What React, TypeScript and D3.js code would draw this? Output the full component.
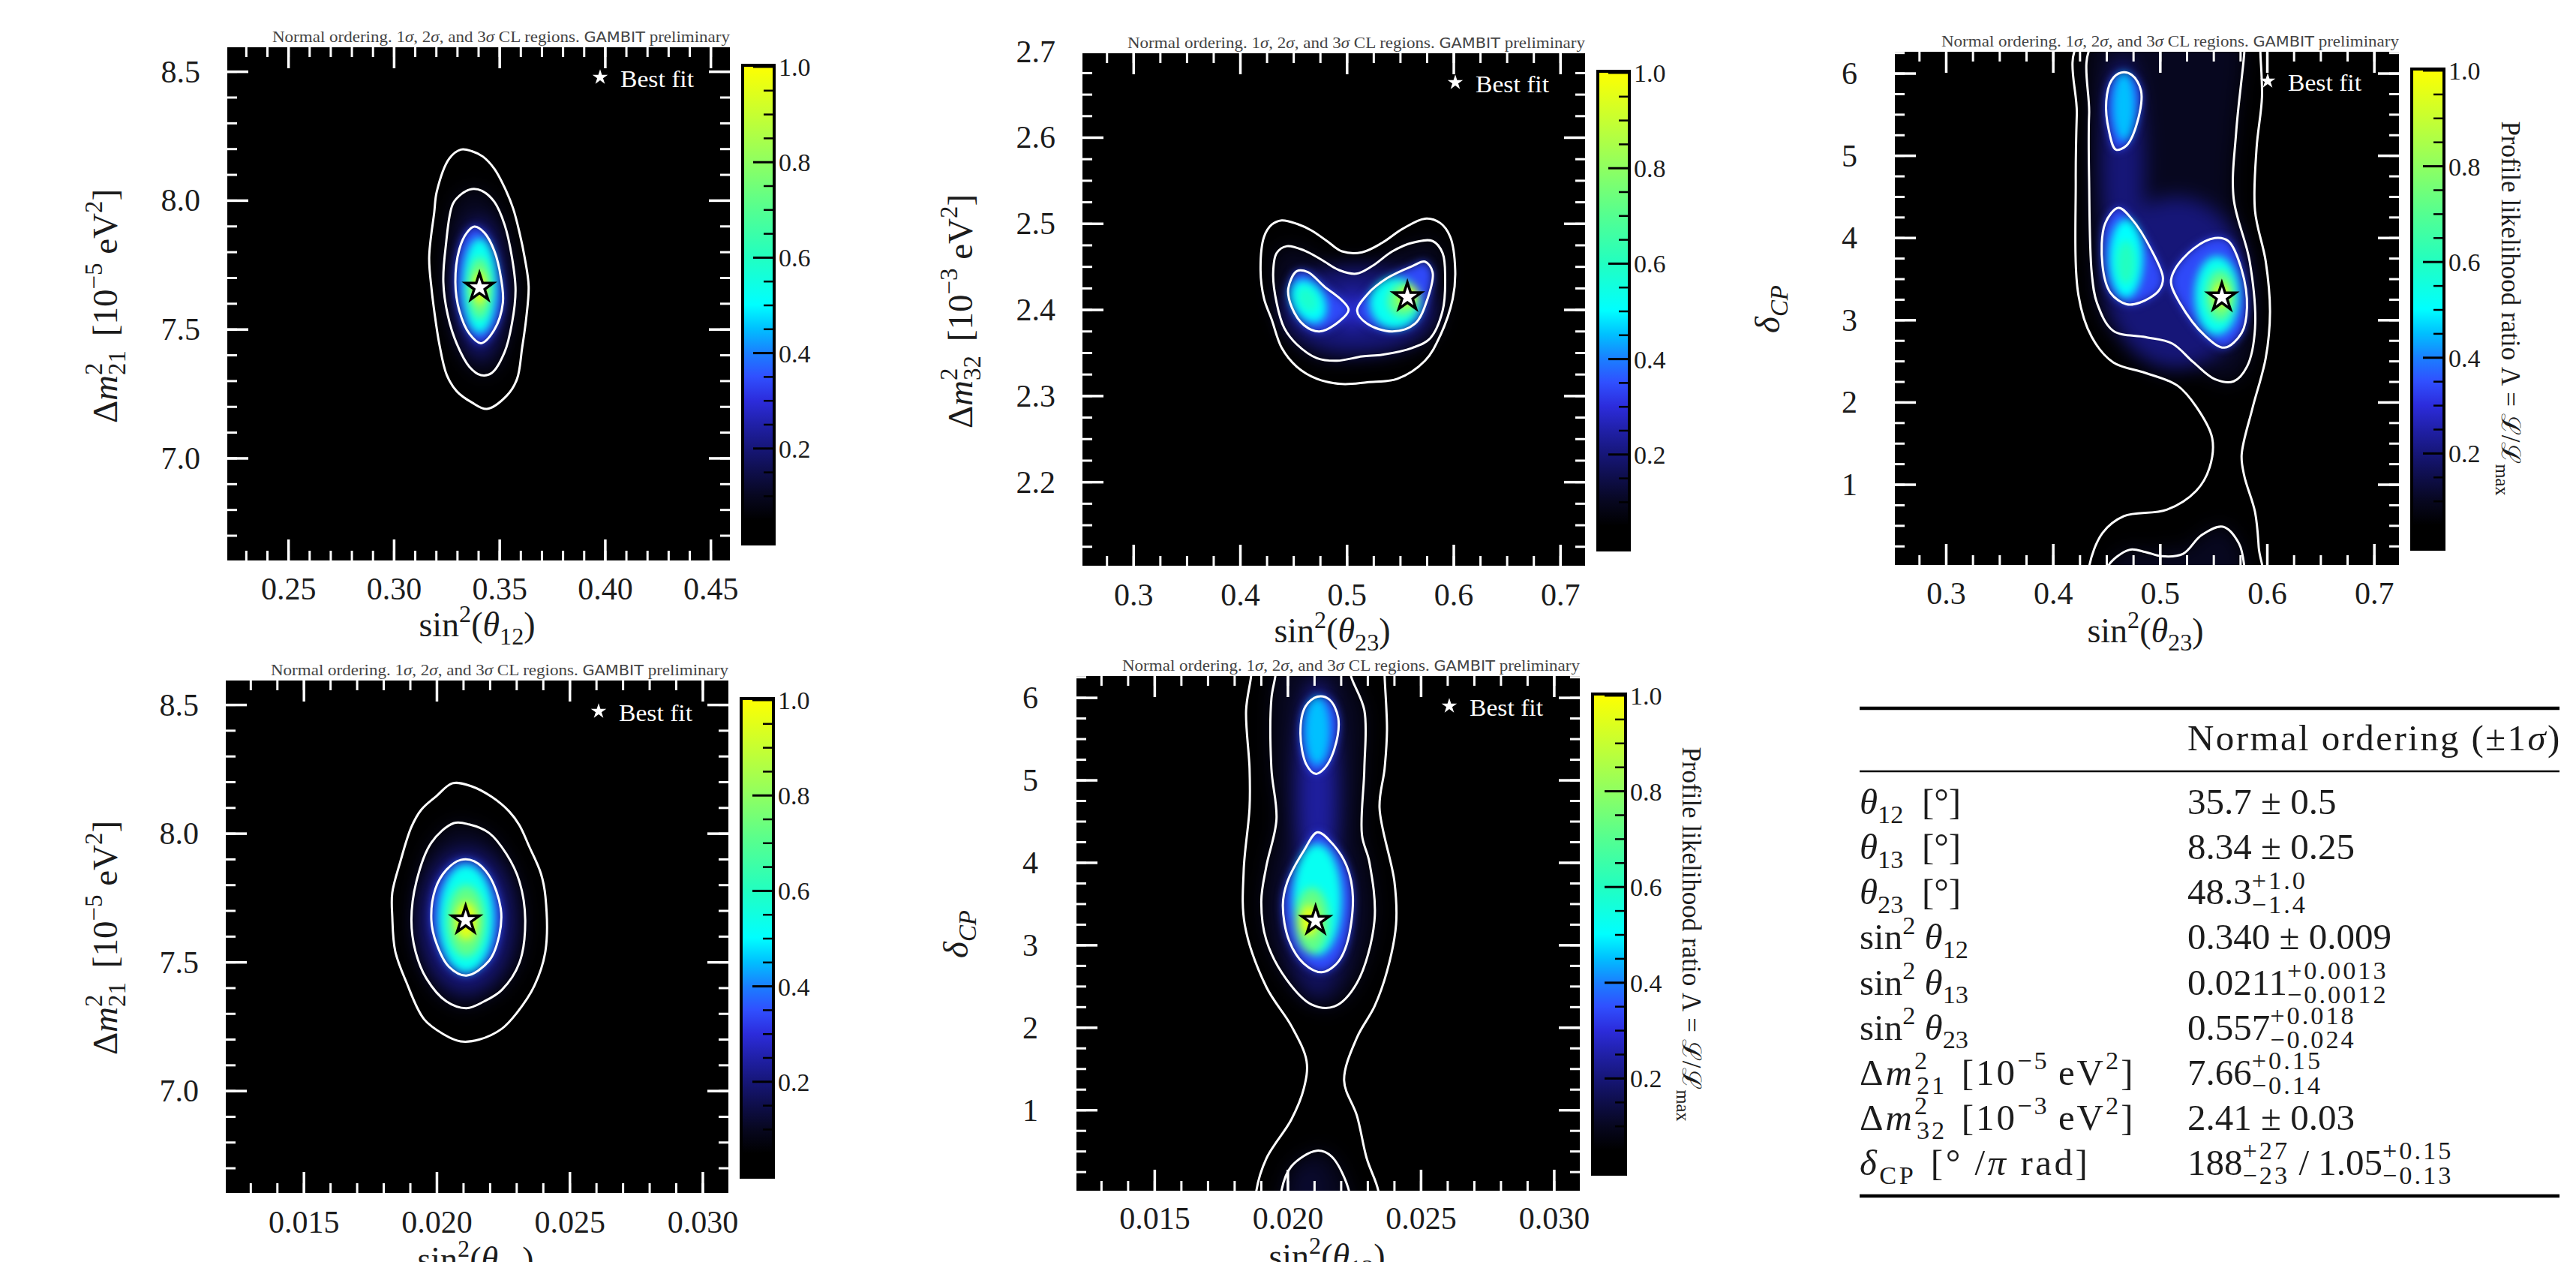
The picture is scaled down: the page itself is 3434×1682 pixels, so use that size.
import React from "react";
import * as d3 from "d3";

// Colour map
const cmapLevels = [0, 0.05, 0.1, 0.15, 0.2, 0.25, 0.3, 0.35, 0.4, 0.45, 0.5, 0.6, 0.7, 0.8, 0.9, 1];
const cmapColors = ["#000000", "#000000", "#07071f", "#0e0e4a", "#161678", "#2020a8", "#2c2cdc", "#3050ff", "#1a80ff", "#00c0ff", "#00ffff", "#22ffc0", "#55ff90", "#90ff60", "#c8ff30", "#ffff00"];
const cbarMajor = [0.2, 0.4, 0.6, 0.8, 1.0];
const cbarMinor = [0.05, 0.1, 0.15, 0.25, 0.3, 0.35, 0.45, 0.5, 0.55, 0.65, 0.7, 0.75, 0.85, 0.9, 0.95];

// Panel 1: sin2(theta12) vs dm21
const p1Xticks = [0.25, 0.3, 0.35, 0.4, 0.45];
const p1Yticks = [7.0, 7.5, 8.0, 8.5];
const p1Best = [0.3404, 7.663];
const p1Sigma3 = [[0.3316, 8.198], [0.3368, 8.192], [0.342, 8.171], [0.3475, 8.123], [0.3523, 8.051], [0.3563, 7.971], [0.3594, 7.875], [0.3618, 7.78], [0.3637, 7.668], [0.3625, 7.54], [0.3606, 7.428], [0.3582, 7.308], [0.3534, 7.244], [0.3439, 7.192], [0.3368, 7.217], [0.3297, 7.26], [0.3249, 7.324], [0.3214, 7.444], [0.319, 7.572], [0.3178, 7.652], [0.3166, 7.78], [0.319, 7.955], [0.3202, 8.035], [0.3261, 8.163]];
const p1Sigma2 = [[0.3368, 8.045], [0.3416, 8.038], [0.3475, 7.995], [0.3523, 7.907], [0.3558, 7.78], [0.3575, 7.652], [0.3558, 7.524], [0.3523, 7.412], [0.3463, 7.332], [0.3411, 7.323], [0.3356, 7.356], [0.3297, 7.444], [0.3254, 7.556], [0.3233, 7.684], [0.3245, 7.827], [0.3278, 7.987], [0.3321, 8.027]];
const p1Sigma1 = [[0.338, 7.899], [0.3428, 7.875], [0.3475, 7.804], [0.3506, 7.7], [0.3515, 7.604], [0.3475, 7.5], [0.3411, 7.447], [0.3356, 7.484], [0.3309, 7.572], [0.329, 7.684], [0.3309, 7.812], [0.3344, 7.875]];
// [level, centre x, centre y, half width, half height, tilt]
const p1Bands = [[0.2, 0.3405, 7.66, 0.0115, 0.27, 0], [0.52, 0.3405, 7.67, 0.0082, 0.185, 0], [0.72, 0.3405, 7.66, 0.0056, 0.12, 0], [0.95, 0.3405, 7.66, 0.0032, 0.065, 0]];

// Panel 2: sin2(theta23) vs dm32
const p2Xticks = [0.3, 0.4, 0.5, 0.6, 0.7];
const p2Yticks = [2.2, 2.3, 2.4, 2.5, 2.6, 2.7];
const p2Best = [0.5565, 2.415];
const p2Sigma3 = [[0.4387, 2.504], [0.4529, 2.5], [0.467, 2.492], [0.4811, 2.48], [0.4953, 2.468], [0.5141, 2.467], [0.533, 2.478], [0.5518, 2.494], [0.573, 2.506], [0.5872, 2.501], [0.5966, 2.485], [0.6013, 2.446], [0.599, 2.413], [0.5872, 2.37], [0.573, 2.341], [0.5471, 2.32], [0.5189, 2.316], [0.4953, 2.314], [0.4717, 2.32], [0.4529, 2.334], [0.4387, 2.356], [0.4293, 2.389], [0.4222, 2.413], [0.4189, 2.446], [0.4222, 2.485], [0.4293, 2.499]];
const p2Sigma2 = [[0.4435, 2.474], [0.4599, 2.469], [0.4764, 2.458], [0.4929, 2.446], [0.5085, 2.442], [0.5236, 2.451], [0.5424, 2.468], [0.5613, 2.478], [0.5801, 2.48], [0.5895, 2.466], [0.5919, 2.437], [0.5895, 2.399], [0.5778, 2.367], [0.5613, 2.356], [0.533, 2.348], [0.5141, 2.346], [0.4906, 2.341], [0.4717, 2.344], [0.4529, 2.36], [0.4411, 2.379], [0.434, 2.408], [0.4307, 2.442], [0.434, 2.466]];
const p2Sigma1a = [[0.4529, 2.445], [0.4632, 2.444], [0.4788, 2.427], [0.4953, 2.411], [0.5014, 2.4], [0.4929, 2.387], [0.4741, 2.375], [0.4599, 2.382], [0.4482, 2.403], [0.4449, 2.425]];
const p2Sigma1b = [[0.5613, 2.451], [0.573, 2.456], [0.5801, 2.444], [0.5754, 2.413], [0.5636, 2.384], [0.5424, 2.375], [0.5189, 2.384], [0.5094, 2.399], [0.5189, 2.418], [0.5377, 2.437]];
const p2Bands = [[0.2, 0.51, 2.4, 0.072, 0.052, 0], [0.3, 0.505, 2.4, 0.012, 0.02, 0], [0.5, 0.464, 2.41, 0.015, 0.027, -30], [0.58, 0.463, 2.412, 0.009, 0.016, -30], [0.52, 0.545, 2.408, 0.024, 0.03, 30], [0.72, 0.553, 2.412, 0.0145, 0.02, 30], [0.95, 0.557, 2.416, 0.0075, 0.012, 30]];

// Panel 3: sin2(theta23) vs deltaCP
const p3Xticks = [0.3, 0.4, 0.5, 0.6, 0.7];
const p3Yticks = [1, 2, 3, 4, 5, 6];
const p3Best = [0.5575, 3.28];
const p3Sigma3 = [[0.425, 6.381], [0.422, 5.51], [0.421, 4.691], [0.4235, 3.307], [0.436, 2.795], [0.456, 2.488], [0.486, 2.36], [0.516, 2.206], [0.5335, 1.95], [0.5485, 1.566], [0.546, 1.207], [0.5335, 0.925], [0.506, 0.695], [0.466, 0.618], [0.446, 0.413], [0.4335, 0.003], [0.4335, -0.279], [0.5935, -0.279], [0.592, 0.234], [0.5885, 0.669], [0.5785, 1.105], [0.576, 1.361], [0.586, 1.924], [0.5985, 2.539], [0.6025, 3.102], [0.5985, 3.717], [0.5885, 4.332], [0.59, 5.1], [0.595, 5.715], [0.5935, 6.263], [0.5935, 6.381]];
const p3Sigma2a = [[0.4385, 6.381], [0.4335, 5.51], [0.4335, 4.691], [0.436, 3.564], [0.441, 3.205], [0.456, 2.872], [0.486, 2.795], [0.511, 2.718], [0.531, 2.488], [0.551, 2.283], [0.5685, 2.257], [0.581, 2.436], [0.5885, 2.898], [0.5835, 3.717], [0.5685, 4.486], [0.571, 5.305], [0.5785, 6.263], [0.5785, 6.381]];
const p3Sigma2b = [[0.451, -0.2], [0.451, 0.003], [0.471, 0.208], [0.486, 0.182], [0.501, 0.131], [0.521, 0.157], [0.5385, 0.387], [0.5585, 0.49], [0.5735, 0.285], [0.5785, 0.003], [0.5785, -0.2]];
const p3Sigma1a = [[0.4635, 6.012], [0.4735, 5.982], [0.482, 5.792], [0.4785, 5.408], [0.4685, 5.126], [0.4585, 5.075], [0.452, 5.305], [0.4495, 5.664], [0.4545, 5.92]];
const p3Sigma1b = [[0.461, 4.368], [0.4735, 4.229], [0.491, 3.871], [0.5025, 3.512], [0.4985, 3.359], [0.481, 3.215], [0.4685, 3.195], [0.4535, 3.333], [0.446, 3.666], [0.4485, 4.178]];
const p3Sigma1c = [[0.551, 3.999], [0.5635, 3.963], [0.576, 3.615], [0.581, 3.154], [0.576, 2.846], [0.56, 2.667], [0.541, 2.821], [0.5185, 3.205], [0.51, 3.461], [0.5135, 3.615], [0.531, 3.871]];
const p3Bands = [[0.2, 0.515, 3.45, 0.066, 1.05, 0], [0.2, 0.465, 4.9, 0.02, 1.3, 0], [0.1, 0.535, 6.1, 0.04, 0.5, 0], [0.1, 0.52, 0.05, 0.04, 0.18, 0], [0.45, 0.466, 5.6, 0.0105, 0.42, 0], [0.5, 0.468, 3.75, 0.016, 0.48, 0], [0.6, 0.468, 3.7, 0.009, 0.27, 0], [0.52, 0.553, 3.3, 0.021, 0.48, 0], [0.72, 0.556, 3.3, 0.0135, 0.31, 0], [0.95, 0.557, 3.3, 0.007, 0.15, 0]];

// Panel 4: sin2(theta13) vs dm21
const p4Xticks = [0.015, 0.02, 0.025, 0.03];
const p4Yticks = [7.0, 7.5, 8.0, 8.5];
const p4Best = [0.02108, 7.664];
const p4Sigma3 = [[0.02059, 8.196], [0.0213, 8.184], [0.02206, 8.143], [0.02272, 8.086], [0.0231, 8.033], [0.02347, 7.95], [0.02391, 7.845], [0.02408, 7.755], [0.02408, 7.544], [0.02366, 7.408], [0.023, 7.303], [0.02244, 7.242], [0.02159, 7.2], [0.02089, 7.193], [0.02026, 7.22], [0.01951, 7.28], [0.01885, 7.423], [0.01843, 7.544], [0.01832, 7.679], [0.01832, 7.77], [0.01862, 7.89], [0.01904, 8.026], [0.01941, 8.093], [0.01998, 8.146]];
const p4Sigma2 = [[0.02064, 8.041], [0.02121, 8.036], [0.02196, 8.003], [0.02262, 7.92], [0.0231, 7.815], [0.02332, 7.664], [0.0231, 7.498], [0.02244, 7.393], [0.02177, 7.348], [0.02111, 7.322], [0.02036, 7.348], [0.0196, 7.438], [0.01919, 7.544], [0.01904, 7.664], [0.01923, 7.815], [0.01979, 7.965]];
const p4Sigma1 = [[0.02089, 7.898], [0.0214, 7.893], [0.02196, 7.837], [0.0224, 7.709], [0.02234, 7.604], [0.02196, 7.506], [0.02111, 7.449], [0.02045, 7.483], [0.01998, 7.574], [0.01979, 7.664], [0.01994, 7.785], [0.02036, 7.86]];
const p4Bands = [[0.2, 0.0211, 7.66, 0.00175, 0.28, 0], [0.52, 0.0211, 7.67, 0.00105, 0.21, 0], [0.72, 0.0211, 7.66, 0.00072, 0.14, 0], [0.95, 0.0211, 7.66, 0.00042, 0.075, 0]];

// Panel 5: sin2(theta13) vs deltaCP
const p5Xticks = [0.015, 0.02, 0.025, 0.03];
const p5Yticks = [1, 2, 3, 4, 5, 6];
const p5Best = [0.02104, 3.298];
const p5Sigma3 = [[0.01862, 6.4], [0.01862, 6.275], [0.01843, 5.85], [0.01856, 5.141], [0.01856, 4.668], [0.01834, 3.912], [0.01838, 3.25], [0.01919, 2.494], [0.02013, 2.022], [0.0207, 1.596], [0.0206, 1.266], [0.02013, 0.888], [0.01919, 0.415], [0.01881, 0.013], [0.01881, -0.3], [0.0234, -0.3], [0.0234, 0.013], [0.02296, 0.415], [0.02259, 0.935], [0.02211, 1.36], [0.02259, 1.88], [0.02325, 2.258], [0.02372, 2.683], [0.02406, 3.25], [0.024, 3.77], [0.02344, 4.668], [0.02363, 5.141], [0.02372, 5.613], [0.02363, 6.275], [0.02363, 6.4]];
const p5Sigma2a = [[0.01953, 6.4], [0.01953, 6.275], [0.01938, 5.992], [0.01938, 5.141], [0.01957, 4.526], [0.01919, 3.959], [0.019, 3.534], [0.01919, 3.061], [0.01994, 2.589], [0.02089, 2.282], [0.02174, 2.258], [0.02259, 2.542], [0.02325, 3.298], [0.02306, 4.007], [0.02278, 4.337], [0.02287, 5.141], [0.02287, 5.85], [0.02236, 6.275], [0.02236, 6.4]];
const p5Sigma2b = [[0.01975, -0.2], [0.01975, 0.013], [0.02013, 0.32], [0.02108, 0.509], [0.02164, 0.439], [0.0223, 0.013], [0.0223, -0.2]];
const p5Sigma1a = [[0.02111, 6.015], [0.02155, 5.982], [0.02189, 5.755], [0.02174, 5.377], [0.02136, 5.141], [0.02104, 5.079], [0.0207, 5.188], [0.02047, 5.566], [0.02066, 5.897]];
const p5Sigma1b = [[0.02111, 4.37], [0.02164, 4.243], [0.02221, 3.959], [0.02244, 3.581], [0.02221, 3.014], [0.02183, 2.778], [0.02127, 2.674], [0.0206, 2.778], [0.02004, 3.061], [0.01981, 3.487], [0.01998, 3.77], [0.0206, 4.148]];
const p5Bands = [[0.17, 0.0211, 3.35, 0.0012, 1.0, 0], [0.24, 0.0211, 4.85, 0.00078, 1.35, 0], [0.12, 0.0208, 0.08, 0.0005, 0.28, 0], [0.45, 0.0211, 5.6, 0.00048, 0.42, 0], [0.52, 0.0211, 3.55, 0.00092, 0.68, 0], [0.72, 0.0209, 3.3, 0.00064, 0.4, 0], [0.95, 0.0208, 3.3, 0.00035, 0.19, 0]];

// Table
const tableNames = ["t12", "t13", "t23", "s12", "s13", "s23", "m21", "m32", "dcp"];
const tableValues = [
  [{ base: "35.7 ± 0.5" }],
  [{ base: "8.34 ± 0.25" }],
  [{ base: "48.3", up: "+1.0", down: "−1.4" }],
  [{ base: "0.340 ± 0.009" }],
  [{ base: "0.0211", up: "+0.0013", down: "−0.0012" }],
  [{ base: "0.557", up: "+0.018", down: "−0.024" }],
  [{ base: "7.66", up: "+0.15", down: "−0.14" }],
  [{ base: "2.41 ± 0.03" }],
  [{ base: "188", up: "+27", down: "−23" }, { base: " / 1.05", up: "+0.15", down: "−0.13" }],
];

const SERIF = "'Liberation Serif', 'DejaVu Serif', serif";
const INK = "#1c1c1c";

const colorOf = d3.scaleLinear<string>().domain(cmapLevels).range(cmapColors);
const starPath = (size: number) => d3.symbol(d3.symbolStar, size)() as string;
const closedLine = (x: any, y: any) =>
  d3.line().x((d: any) => x(d[0])).y((d: any) => y(d[1])).curve(d3.curveCatmullRomClosed.alpha(0.5));

const textWidth = (s: string) =>
  d3.sum(s.split(""), (c) => (c === "." ? 0.25 : c === "+" || c === "−" ? 0.564 : 0.5));

function MathText({ x, y, size, parts, anchor, rotate, fill = INK, spacing }: any) {
  let shift = 0;
  return (
    <text x={x} y={y} fontSize={size} fontFamily={SERIF} fill={fill} textAnchor={anchor} letterSpacing={spacing}
      transform={rotate ? `rotate(${rotate} ${x} ${y})` : undefined} style={{ whiteSpace: "pre" }}>
      {parts.map((p: any, i: number) => {
        const target = p.s === 1 ? -0.42 : p.s === -1 ? 0.24 : 0;
        const dy = (target - shift) * size;
        shift = target;
        const dx = p.backPx ? -p.backPx : p.back ? -p.back * size * 0.7 : p.gap ? p.gap * size : undefined;
        return (
          <tspan key={i} dy={dy} dx={dx} letterSpacing={p.ls}
            fontSize={p.s ? size * 0.7 : size} fontStyle={p.i ? "italic" : "normal"}>
            {p.t}
          </tspan>
        );
      })}
    </text>
  );
}

const r = (t: string, gap?: number) => ({ t, gap });
const it = (t: string) => ({ t, i: true });
const sup = (t: string) => ({ t, s: 1 });
const sub = (t: string, back?: number, i?: boolean) => ({ t, s: -1, back, i });

const sinLabel = (n: string) => [r("sin"), sup("2"), r("("), it("θ"), sub(n), r(")")];
const dmLabel = (n: string, exp: string) => [r("Δ"), it("m"), sup("2"), sub(n, 0.5), r("[10", 0.4), sup("−" + exp), r("eV", 0.25), sup("2"), r("]")];
const dcpLabel = [it("δ"), sub("CP", undefined, true)];
const cbarTitle = [r("Profile likelihood ratio Λ = ℒ/ℒ"), sub("max")];

function Panel({ f, bar, xDomain, yDomain, xTicks, yTicks, xMinor, yMinor, xFmt, yFmt, best, bands, sigma2, sigma1, sigma3, id, legend, xLabel, yLabel, layout, barTitle }: any) {
  const x = d3.scaleLinear().domain(xDomain).range([f.l, f.r]);
  const y = d3.scaleLinear().domain(yDomain).range([f.b, f.t]);
  const line = closedLine(x, y);
  const cb = d3.scaleLinear().domain([0, 1]).range([bar.b, bar.t + 2]);
  const minorOf = (dom: number[], step: number) =>
    d3.range(Math.ceil(dom[0] / step - 1e-6), Math.floor(dom[1] / step + 1e-6) + 1).map((k) => k * step);
  const xM = minorOf(xDomain, xMinor);
  const yM = minorOf(yDomain, yMinor);
  const contour = (pts: any, i: string) => (
    <path key={i} d={line(pts) as string} fill="none" stroke="#fff" strokeWidth={3} />
  );
  const band = (b: number[], i: number) => (
    <ellipse key={i} cx={x(b[1])} cy={y(b[2])} rx={Math.abs(x(b[1] + b[3]) - x(b[1]))} ry={Math.abs(y(b[2] + b[4]) - y(b[2]))}
      fill={colorOf(b[0])} transform={`rotate(${b[5]} ${x(b[1])} ${y(b[2])})`} />
  );
  return (
    <g>
      <defs>
        <clipPath id={`clip${id}`}>
          <rect x={f.l} y={f.t} width={f.r - f.l} height={f.b - f.t} />
        </clipPath>
      </defs>
      <rect x={f.l} y={f.t} width={f.r - f.l} height={f.b - f.t} fill="#000" />
      <g clipPath={`url(#clip${id})`}>
        <g filter="url(#softWide)">
          {sigma2.map((pts: any, i: number) => (
            <path key={i} d={line(pts) as string} fill={colorOf(0.1)} />
          ))}
          {bands.filter((b: number[]) => b[0] < 0.317).map(band)}
        </g>
        <g filter="url(#softTight)">
          {sigma1.map((pts: any, i: number) => (
            <path key={i} d={line(pts) as string} fill={colorOf(0.34)} />
          ))}
          {bands.filter((b: number[]) => b[0] >= 0.317).map(band)}
        </g>
        {sigma3.map((pts: any, i: number) => contour(pts, `s3${i}`))}
        {sigma2.map((pts: any, i: number) => contour(pts, `s2${i}`))}
        {sigma1.map((pts: any, i: number) => contour(pts, `s1${i}`))}
        <path d={starPath(420)} transform={`translate(${x(best[0])},${y(best[1])})`} fill="#fff" stroke="#000" strokeWidth={3.5} />
      </g>

      {/* frame ticks on all four sides */}
      <g stroke="#fff">
        {xM.map((v) => (
          <g key={v} strokeWidth={3}>
            <line x1={x(v)} x2={x(v)} y1={f.t} y2={f.t + 13} />
            <line x1={x(v)} x2={x(v)} y1={f.b} y2={f.b - 13} />
          </g>
        ))}
        {yM.map((v) => (
          <g key={v} strokeWidth={3}>
            <line y1={y(v)} y2={y(v)} x1={f.l} x2={f.l + 13} />
            <line y1={y(v)} y2={y(v)} x1={f.r} x2={f.r - 13} />
          </g>
        ))}
        {xTicks.map((v: number) => (
          <g key={v} strokeWidth={3.5}>
            <line x1={x(v)} x2={x(v)} y1={f.t} y2={f.t + 28} />
            <line x1={x(v)} x2={x(v)} y1={f.b} y2={f.b - 28} />
          </g>
        ))}
        {yTicks.map((v: number) => (
          <g key={v} strokeWidth={3.5}>
            <line y1={y(v)} y2={y(v)} x1={f.l} x2={f.l + 28} />
            <line y1={y(v)} y2={y(v)} x1={f.r} x2={f.r - 28} />
          </g>
        ))}
      </g>

      {xTicks.map((v: number) => (
        <text key={v} x={x(v)} y={layout.xTickY} textAnchor="middle" fontSize={42} fontFamily={SERIF} fill={INK}>{xFmt(v)}</text>
      ))}
      {yTicks.map((v: number) => (
        <text key={v} x={layout.yTickX} y={y(v) + 14} textAnchor="end" fontSize={42} fontFamily={SERIF} fill={INK}>{yFmt(v)}</text>
      ))}

      <text x={f.r} y={f.t - 7} textAnchor="end" fontSize={21} fontFamily={SERIF} fill="#444" textLength={610} lengthAdjust="spacingAndGlyphs">
        Normal ordering. 1<tspan fontStyle="italic">σ</tspan>, 2<tspan fontStyle="italic">σ</tspan>, and 3<tspan fontStyle="italic">σ</tspan> CL regions. <tspan fontFamily="'DejaVu Sans', sans-serif" fontSize={19}>GAMBIT</tspan> preliminary
      </text>

      <path d={starPath(130)} transform={`translate(${legend.starX},${legend.y - 13})`} fill="#fff" />
      <text x={legend.starX + 27} y={legend.y} fontSize={31} fontFamily={SERIF} fill="#fff" textLength={98} lengthAdjust="spacingAndGlyphs">Best fit</text>

      <MathText x={layout.xLabelX} y={layout.xLabelY} size={46} anchor="middle" parts={xLabel} />
      <MathText x={layout.yLabelX} y={layout.yLabelY} size={layout.yLabelSize} anchor="middle" rotate={-90} parts={yLabel} />

      {/* colour bar */}
      <defs>
        <linearGradient id={`cbar${id}`} x1="0" x2="0" y1="1" y2="0">
          {cmapLevels.map((l, i) => (
            <stop key={i} offset={l} stopColor={cmapColors[i]} />
          ))}
        </linearGradient>
      </defs>
      <rect x={bar.l} y={bar.t} width={bar.r - bar.l} height={bar.b - bar.t} fill={`url(#cbar${id})`} stroke="#000" strokeWidth={4} />
      {cbarMinor.map((v) => (
        <line key={v} x1={bar.r} x2={bar.r - 14} y1={cb(v)} y2={cb(v)} stroke="#000" strokeWidth={2.5} />
      ))}
      {cbarMajor.map((v) => (
        <g key={v}>
          <line x1={bar.r} x2={bar.r - 28} y1={cb(v)} y2={cb(v)} stroke="#000" strokeWidth={3} />
          <text x={bar.r + 6} y={cb(v) + 12} fontSize={34} fontFamily={SERIF} fill={INK}>{d3.format(".1f")(v)}</text>
        </g>
      ))}
      {barTitle && (
        <MathText x={barTitle.x} y={barTitle.y} size={35} anchor="middle" rotate={90} parts={cbarTitle} />
      )}
    </g>
  );
}

function ValueCell({ x, y, size, segs }: any) {
  const ls = 3;
  const parts: any[] = [];
  segs.forEach((s: any) => {
    parts.push(r(s.base));
    if (s.up) {
      parts.push({ t: s.up, s: 1, ls });
      parts.push({ t: s.down, s: -1, ls, backPx: textWidth(s.up) * size * 0.7 + ls * s.up.length });
    }
  });
  return <MathText x={x} y={y} size={size} parts={parts} />;
}

const deg = [r("[°]", 0.5)];
const tableLabels: Record<string, any[]> = {
  t12: [it("θ"), sub("12"), ...deg],
  t13: [it("θ"), sub("13"), ...deg],
  t23: [it("θ"), sub("23"), ...deg],
  s12: [r("sin"), sup("2"), r(" "), it("θ"), sub("12")],
  s13: [r("sin"), sup("2"), r(" "), it("θ"), sub("13")],
  s23: [r("sin"), sup("2"), r(" "), it("θ"), sub("23")],
  m21: dmLabel("21", "5"),
  m32: dmLabel("32", "3"),
  dcp: [it("δ"), sub("CP"), r("[° /", 0.4), it("π"), r(" rad]")],
};
const tableSpacing: Record<string, number> = { m21: 3, m32: 3, dcp: 3.5 };

export default function App() {
  const fmt2 = d3.format(".2f");
  const fmt1 = d3.format(".1f");
  const fmt3 = d3.format(".3f");
  const fmt0 = d3.format("d");
  const tableY = d3.scaleLinear().domain([0, 8]).range([1085, 1566]);
  return (
    <svg width={3434} height={1682} style={{ position: "absolute", left: 0, top: 0, background: "#fff" }}>
      <defs>
        <filter id="softWide" filterUnits="userSpaceOnUse" x={0} y={0} width={3434} height={1682} colorInterpolationFilters="sRGB">
          <feGaussianBlur stdDeviation={13} />
        </filter>
        <filter id="softTight" filterUnits="userSpaceOnUse" x={0} y={0} width={3434} height={1682} colorInterpolationFilters="sRGB">
          <feGaussianBlur stdDeviation={6} />
        </filter>
      </defs>

      <Panel id={1} f={{ l: 303, r: 973, t: 63, b: 747 }} bar={{ l: 990, r: 1032, t: 87, b: 725 }}
        xDomain={[0.221, 0.459]} yDomain={[6.604, 8.595]} xTicks={p1Xticks} yTicks={p1Yticks} xMinor={0.01} yMinor={0.1}
        xFmt={fmt2} yFmt={fmt1} best={p1Best} bands={p1Bands} sigma3={[p1Sigma3]} sigma2={[p1Sigma2]} sigma1={[p1Sigma1]}
        legend={{ starX: 800, y: 116 }} xLabel={sinLabel("12")} yLabel={dmLabel("21", "5")}
        layout={{ xTickY: 799, yTickX: 267, xLabelX: 636, xLabelY: 848, yLabelX: 156, yLabelY: 408, yLabelSize: 47 }} />

      <Panel id={2} f={{ l: 1443, r: 2113, t: 71, b: 754 }} bar={{ l: 2130, r: 2172, t: 95, b: 733 }}
        xDomain={[0.252, 0.723]} yDomain={[2.103, 2.698]} xTicks={p2Xticks} yTicks={p2Yticks} xMinor={0.025} yMinor={0.025}
        xFmt={fmt1} yFmt={fmt1} best={p2Best} bands={p2Bands} sigma3={[p2Sigma3]} sigma2={[p2Sigma2]} sigma1={[p2Sigma1a, p2Sigma1b]}
        legend={{ starX: 1940, y: 123 }} xLabel={sinLabel("23")} yLabel={dmLabel("32", "3")}
        layout={{ xTickY: 807, yTickX: 1407, xLabelX: 1776, xLabelY: 856, yLabelX: 1296, yLabelY: 415, yLabelSize: 47 }} />

      <Panel id={3} f={{ l: 2526, r: 3198, t: 69, b: 753 }} bar={{ l: 3215, r: 3258, t: 92, b: 732 }}
        xDomain={[0.252, 0.723]} yDomain={[0.024, 6.265]} xTicks={p3Xticks} yTicks={p3Yticks} xMinor={0.025} yMinor={0.25}
        xFmt={fmt1} yFmt={fmt0} best={p3Best} bands={p3Bands} sigma3={[p3Sigma3]} sigma2={[p3Sigma2a, p3Sigma2b]} sigma1={[p3Sigma1a, p3Sigma1b, p3Sigma1c]}
        legend={{ starX: 3023, y: 121 }} xLabel={sinLabel("23")} yLabel={dcpLabel}
        layout={{ xTickY: 805, yTickX: 2476, xLabelX: 2860, xLabelY: 856, yLabelX: 2372, yLabelY: 412, yLabelSize: 47 }}
        barTitle={{ x: 3335, y: 411 }} />

      <Panel id={4} f={{ l: 301, r: 971, t: 907, b: 1590 }} bar={{ l: 988, r: 1031, t: 931, b: 1569 }}
        xDomain={[0.01206, 0.03096]} yDomain={[6.604, 8.595]} xTicks={p4Xticks} yTicks={p4Yticks} xMinor={0.001} yMinor={0.1}
        xFmt={fmt3} yFmt={fmt1} best={p4Best} bands={p4Bands} sigma3={[p4Sigma3]} sigma2={[p4Sigma2]} sigma1={[p4Sigma1]}
        legend={{ starX: 798, y: 961 }} xLabel={sinLabel("13")} yLabel={dmLabel("21", "5")}
        layout={{ xTickY: 1643, yTickX: 265, xLabelX: 634, xLabelY: 1694, yLabelX: 156, yLabelY: 1250, yLabelSize: 47 }} />

      <Panel id={5} f={{ l: 1435, r: 2106, t: 901, b: 1587 }} bar={{ l: 2123, r: 2167, t: 925, b: 1565 }}
        xDomain={[0.01206, 0.03096]} yDomain={[0.024, 6.265]} xTicks={p5Xticks} yTicks={p5Yticks} xMinor={0.001} yMinor={0.25}
        xFmt={fmt3} yFmt={fmt0} best={p5Best} bands={p5Bands} sigma3={[p5Sigma3]} sigma2={[p5Sigma2a, p5Sigma2b]} sigma1={[p5Sigma1a, p5Sigma1b]}
        legend={{ starX: 1932, y: 954 }} xLabel={sinLabel("13")} yLabel={dcpLabel}
        layout={{ xTickY: 1638, yTickX: 1384, xLabelX: 1769, xLabelY: 1690, yLabelX: 1290, yLabelY: 1245, yLabelSize: 47 }}
        barTitle={{ x: 2243, y: 1245 }} />

      {/* parameter table */}
      <line x1={2479} x2={3412} y1={944} y2={944} stroke="#000" strokeWidth={4.5} />
      <line x1={2479} x2={3412} y1={1028} y2={1028} stroke="#000" strokeWidth={2.5} />
      <line x1={2479} x2={3412} y1={1594} y2={1594} stroke="#000" strokeWidth={4.5} />
      <MathText x={2916} y={1000} size={49} spacing={2.4} parts={[r("Normal ordering (±1"), it("σ"), r(")")]} />
      {tableNames.map((n, i) => (
        <g key={n}>
          <MathText x={2479} y={tableY(i)} size={49} spacing={tableSpacing[n]} parts={tableLabels[n]} />
          <ValueCell x={2916} y={tableY(i)} size={49} segs={tableValues[i]} />
        </g>
      ))}
    </svg>
  );
}
